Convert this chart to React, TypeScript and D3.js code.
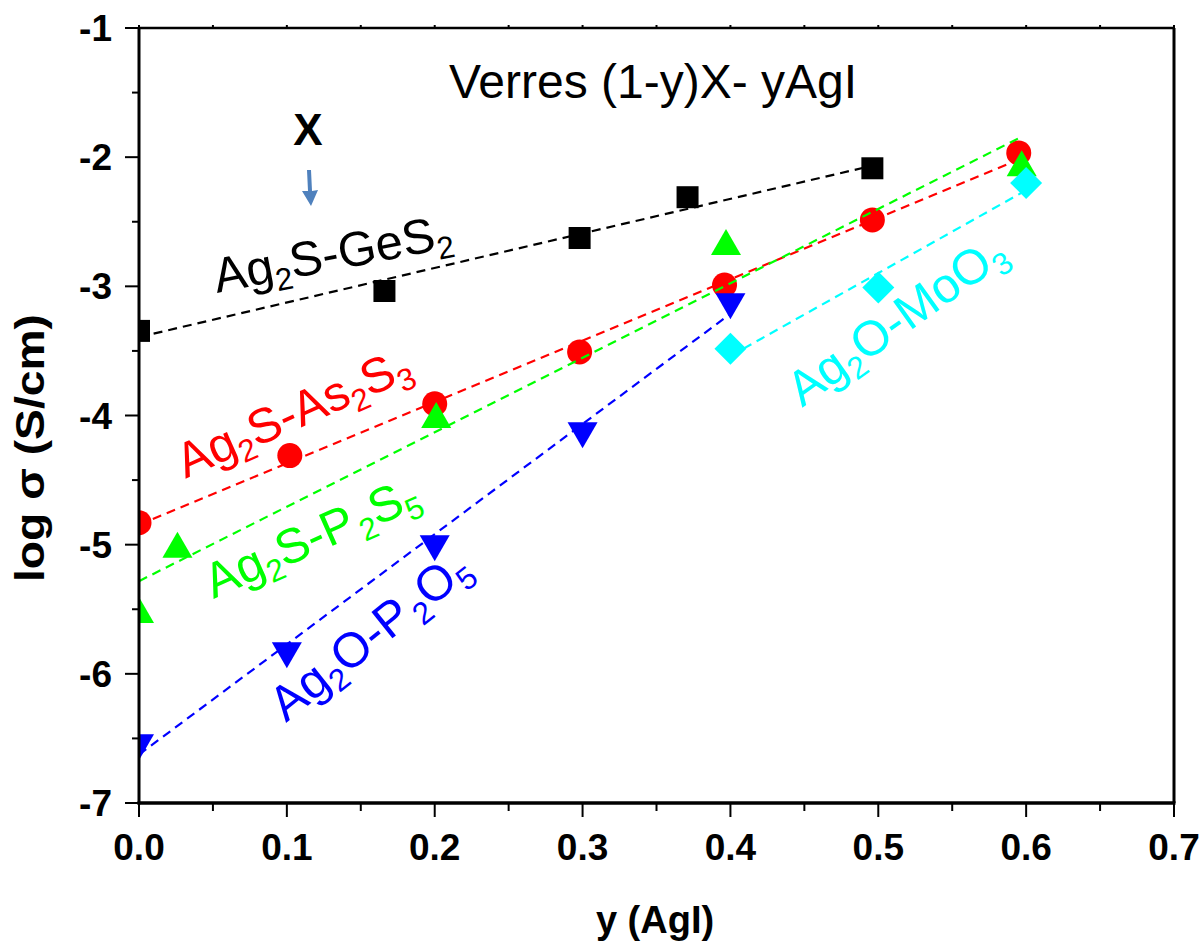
import React from "react";
import * as d3 from "d3";

// ---- data -------------------------------------------------------------
const xTicks = [0, 0.1, 0.2, 0.3, 0.4, 0.5, 0.6, 0.7];
const yTicks = [-7, -6, -5, -4, -3, -2, -1];

// Ag2S-GeS2
const geX = [0, 0.166, 0.298, 0.371, 0.496];
const geY = [-3.345, -3.036, -2.626, -2.31, -2.086];
// Ag2S-As2S3
const asX = [0, 0.102, 0.2, 0.298, 0.396, 0.496, 0.595];
const asY = [-4.83, -4.31, -3.91, -3.508, -2.99, -2.486, -1.967];
// Ag2S-P2S5
const psX = [0, 0.026, 0.201, 0.397, 0.597];
const psY = [-5.54, -5.035, -4.03, -2.69, -2.08];
// Ag2O-P2O5
const poX = [0, 0.1, 0.2, 0.3, 0.4];
const poY = [-6.535, -5.823, -4.995, -4.12, -3.121];
// Ag2O-MoO3
const moX = [0.4, 0.5, 0.6];
const moY = [-3.483, -3.01, -2.2];

// label pieces: [text, isSubscript]
const geLabel: [string, boolean][] = [["Ag", false], ["2", true], ["S-GeS", false], ["2", true]];
const asLabel: [string, boolean][] = [["Ag", false], ["2", true], ["S-As", false], ["2", true], ["S", false], ["3", true]];
const psLabel: [string, boolean][] = [["Ag", false], ["2", true], ["S-P", false], ["\u200A2", true], ["S", false], ["5", true]];
const poLabel: [string, boolean][] = [["Ag", false], ["2", true], ["O-P", false], ["\u200A2", true], ["O", false], ["5", true]];
const moLabel: [string, boolean][] = [["Ag", false], ["2", true], ["O-MoO", false], ["3", true]];

const titleText = "Verres (1-y)X- yAgI";
const xTitle = "y (AgI)";
const yTitle = "log \u03c3 (S/cm)";
const markText = "X";

// ---- layout -----------------------------------------------------------
const W = 1204;
const H = 943;
const L = 139, R = 1174, T = 28, B = 803;
const FONT = "'Liberation Sans', Arial, Helvetica, sans-serif";

const x = d3.scaleLinear().domain([0, 0.7]).range([L, R]);
const y = d3.scaleLinear().domain([-7, -1]).range([B, T]);

type Series = {
  xs: number[];
  ys: number[];
  color: string;
  symbol: d3.SymbolType;
  size: number;
  rotate: number;
  label: [string, boolean][];
  lx: number;
  ly: number;
  angle: number;
};

const series: Series[] = [
  { xs: geX, ys: geY, color: "#000000", symbol: d3.symbolSquare, size: 484, rotate: 0, label: geLabel, lx: 0.0528, ly: -3.052, angle: -11 },
  { xs: asX, ys: asY, color: "#ff0000", symbol: d3.symbolCircle, size: 491, rotate: 0, label: asLabel, lx: 0.0315, ly: -4.49, angle: -24 },
  { xs: psX, ys: psY, color: "#00ff00", symbol: d3.symbolTriangle, size: 390, rotate: 0, label: psLabel, lx: 0.0504, ly: -5.42, angle: -24 },
  { xs: poX, ys: poY, color: "#0000ff", symbol: d3.symbolTriangle, size: 390, rotate: 180, label: poLabel, lx: 0.0995, ly: -6.38, angle: -38.5 },
  { xs: moX, ys: moY, color: "#00ffff", symbol: d3.symbolSquare, size: 512, rotate: 45, label: moLabel, lx: 0.4485, ly: -3.94, angle: -35.5 },
];

// least-squares straight line through a series
function fit(xs: number[], ys: number[]) {
  const mx = d3.mean(xs) as number;
  const my = d3.mean(ys) as number;
  let sxy = 0, sxx = 0;
  xs.forEach((v, i) => {
    sxy += (v - mx) * (ys[i] - my);
    sxx += (v - mx) * (v - mx);
  });
  const slope = sxy / sxx;
  const icpt = my - slope * mx;
  const [x0, x1] = d3.extent(xs) as [number, number];
  return [
    [x0, icpt + slope * x0],
    [x1, icpt + slope * x1],
  ] as [number, number][];
}

const lineGen = d3.line<[number, number]>().x((d) => x(d[0])).y((d) => y(d[1]));

function Label({ s }: { s: Series }) {
  const fs = 49;
  const sub = fs * 0.64;
  const shift = fs * 0.2;
  const pieces: React.ReactNode[] = [];
  let cur = 0;
  s.label.forEach(([t, isSub], i) => {
    const target = isSub ? shift : 0;
    pieces.push(
      <tspan key={i} dy={target - cur} fontSize={isSub ? sub : fs}>
        {t}
      </tspan>
    );
    cur = target;
  });
  return (
    <text
      transform={`translate(${x(s.lx)},${y(s.ly)}) rotate(${s.angle})`}
      fill={s.color}
      fontFamily={FONT}
      fontSize={fs}
    >
      {pieces}
    </text>
  );
}

export default function App() {
  const minorX = d3.range(0, 0.7001, 0.05);
  const minorY = d3.range(-7, -0.999, 0.5);

  return (
    <svg
      width={W}
      height={H}
      viewBox={`0 0 ${W} ${H}`}
      style={{ position: "absolute", left: 0, top: 0, background: "#fff" }}
    >
      <defs>
        <clipPath id="plot-area">
          <rect x={L} y={T} width={R - L} height={B - T} />
        </clipPath>
      </defs>
      <rect width={W} height={H} fill="#fff" />

      {/* series: fit line then markers */}
      <g clipPath="url(#plot-area)">
        {series.map((s, i) => (
          <g key={i}>
            <path
              d={lineGen(fit(s.xs, s.ys)) || ""}
              fill="none"
              stroke={s.color}
              strokeWidth={2.2}
              strokeDasharray="9 6"
            />
            {s.xs.map((v, j) => (
              <path
                key={j}
                d={d3.symbol().type(s.symbol).size(s.size)() || ""}
                transform={`translate(${x(v)},${y(s.ys[j])}) rotate(${s.rotate})`}
                fill={s.color}
              />
            ))}
          </g>
        ))}
      </g>

      {/* rotated series labels */}
      {series.map((s, i) => (
        <Label key={i} s={s} />
      ))}

      {/* frame */}
      <g stroke="#000" fill="none">
        <line x1={L} x2={R} y1={T} y2={T} strokeWidth={2.5} />
        <line x1={R} x2={R} y1={T} y2={B} strokeWidth={3} />
        <line x1={L} x2={L} y1={T - 1} y2={B + 1.5} strokeWidth={3} />
        <line x1={L - 1.5} x2={R + 1.5} y1={B} y2={B} strokeWidth={3.5} />
      </g>

      {/* ticks */}
      <g stroke="#000" strokeWidth={2}>
        {minorX.map((v, i) => {
          const major = i % 2 === 0;
          return (
            <g key={i}>
              <line x1={x(v)} x2={x(v)} y1={B} y2={B + (major ? 14 : 8)} />
              <line x1={x(v)} x2={x(v)} y1={T} y2={T - 3} />
            </g>
          );
        })}
        {minorY.map((v, i) => {
          const major = i % 2 === 0;
          return <line key={i} x1={L} x2={L - (major ? 14 : 7)} y1={y(v)} y2={y(v)} />;
        })}
      </g>

      {/* tick labels */}
      <g fontFamily={FONT} fontWeight="bold" fontSize={37} fill="#000">
        {xTicks.map((v) => (
          <text key={v} x={x(v)} y={860} textAnchor="middle">
            {d3.format(".1f")(v)}
          </text>
        ))}
        {yTicks.map((v) => (
          <text key={v} x={112} y={y(v) + 13} textAnchor="end">
            {d3.format("d")(v).replace("\u2212", "-")}
          </text>
        ))}
      </g>

      {/* axis titles */}
      <text x={655} y={933} textAnchor="middle" fontFamily={FONT} fontWeight="bold" fontSize={38}>
        {xTitle}
      </text>
      <text
        transform={`translate(44,448) rotate(-90)`}
        textAnchor="middle"
        fontFamily={FONT}
        fontWeight="bold"
        fontSize={40}
        textLength={268}
        lengthAdjust="spacingAndGlyphs"
      >
        {yTitle}
      </text>

      {/* heading */}
      <text x={653} y={98} textAnchor="middle" fontFamily={FONT} fontSize={48}>
        {titleText}
      </text>

      {/* X marker with arrow */}
      <text x={308} y={145} textAnchor="middle" fontFamily={FONT} fontWeight="bold" fontSize={44}>
        {markText}
      </text>
      <g fill="#4f81bd">
        <polygon points="307,170 311,170 312,191 318,190 311,206 302,191 308,191" />
      </g>
    </svg>
  );
}
